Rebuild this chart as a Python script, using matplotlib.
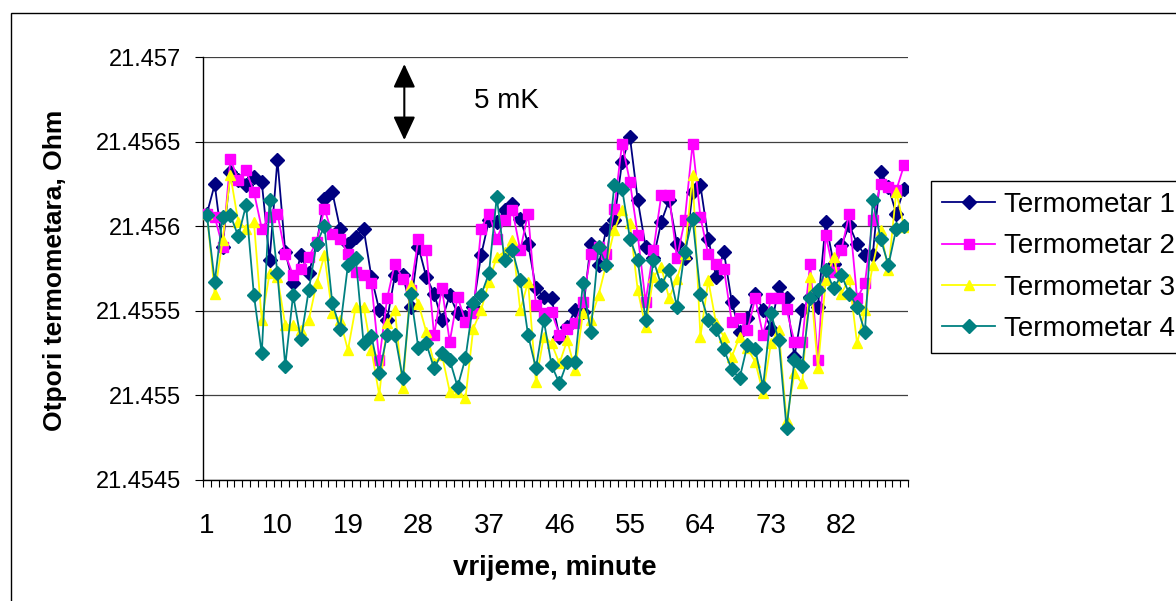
import numpy as np
import matplotlib
matplotlib.use("Agg")
import matplotlib.pyplot as plt
from matplotlib.patches import Rectangle

plt.rcParams['font.family'] = ['Liberation Sans', 'DejaVu Sans']

# otpori termometara, zapisani kao odstupanje od 21.455 Ohm u mikroohmima
base = 21.455
t1_uohm = [1075, 1248, 878, 1321, 1272, 1242, 1292, 1262, 799, 1394,
           848, 661, 828, 720, 897, 1163, 1203, 986, 897, 937,
           986, 700, 503, 444, 710, 710, 523, 878, 700, 601,
           444, 592, 483, 463, 523, 828, 1035, 1025, 1094, 1134,
           1045, 897, 631, 582, 572, 345, 404, 503, 493, 897,
           769, 986, 1035, 1380, 1528, 1154, 878, 809, 1025, 1154,
           897, 809, 1203, 1242, 927, 700, 848, 552, 375, 454,
           601, 503, 394, 641, 572, 227, 503, 582, 523, 1025,
           779, 887, 1006, 897, 828, 828, 1321, 1233, 1075, 1223]
t2_uohm = [1075, 1055, 878, 1400, 1272, 1331, 1203, 986, 1055, 1075,
           834, 710, 749, 818, 907, 1104, 956, 927, 838, 730,
           710, 661, 207, 572, 779, 690, 621, 927, 858, 355,
           631, 316, 582, 434, 483, 986, 1075, 927, 1035, 1094,
           858, 1075, 532, 483, 493, 355, 394, 424, 552, 838,
           878, 838, 1104, 1489, 1262, 947, 552, 858, 1183, 1183,
           809, 1035, 1489, 1055, 834, 775, 749, 434, 454, 385,
           572, 355, 572, 572, 507, 316, 316, 779, 207, 947,
           730, 858, 1075, 572, 661, 1035, 1252, 1233, 1213, 1361]
t3_uohm = [1075, 601, 917, 1302, 1025, 986, 1025, 444, 720, 700,
           414, 414, 385, 444, 661, 828, 483, 444, 266, 523,
           523, 266, 0, 424, 503, 39, 651, 542, 375, 187,
           237, 20, 20, -20, 394, 503, 670, 818, 848, 917,
           503, 670, 79, 345, 306, 187, 325, 148, 483, 444,
           592, 779, 976, 1094, 1016, 621, 404, 700, 759, 572,
           690, 838, 1302, 345, 680, 424, 345, 227, 345, 276,
           197, 10, 306, 385, -148, 128, 69, 700, 158, 680,
           818, 601, 690, 306, 503, 769, 976, 740, 1203, 996]
t4_uohm = [1065, 670, 1055, 1065, 941, 1124, 592, 247, 1154, 720,
           174, 592, 329, 621, 897, 1000, 546, 394, 769, 809,
           306, 349, 128, 355, 355, 99, 601, 276, 306, 158,
           247, 207, 49, 217, 546, 592, 720, 1173, 799, 858,
           680, 355, 158, 444, 177, 69, 197, 197, 661, 375,
           878, 769, 1242, 1223, 927, 799, 444, 799, 651, 740,
           523, 848, 1045, 598, 444, 394, 270, 152, 99, 296,
           270, 49, 483, 325, -197, 207, 172, 572, 621, 743,
           631, 710, 601, 523, 375, 1154, 927, 769, 986, 1000]

minute = np.arange(1, len(t1_uohm) + 1)
series = [
    ("Termometar 1", t1_uohm, "#000080", "D", 7),
    ("Termometar 2", t2_uohm, "#FF00FF", "s", 6.5),
    ("Termometar 3", t3_uohm, "#FFFF00", "^", 7.5),
    ("Termometar 4", t4_uohm, "#008080", "D", 7),
]
ytick_vals = [21.4545, 21.455, 21.4555, 21.456, 21.4565, 21.457]
ytick_text = ["21.4545", "21.455", "21.4555", "21.456", "21.4565", "21.457"]
xtick_vals = [1, 10, 19, 28, 37, 46, 55, 64, 73, 82]

W, H = 1176, 601
fig = plt.figure(figsize=(W / 100, H / 100), dpi=100)
ax = fig.add_axes([203 / W, 1 - 479.5 / H, 705 / W, (479.5 - 57.3) / H])

for name, vals, col, mk, ms in series:
    y = base + np.array(vals) * 1e-6
    ax.plot(minute, y, color=col, lw=1.3, marker=mk, ms=ms,
            mfc=col, mec=col, label=name, zorder=3)

ax.set_xlim(0.5, len(minute) + 0.5)
ax.set_ylim(21.4545, 21.457)
ax.set_yticks(ytick_vals)
ax.set_yticklabels(ytick_text, fontsize=17)
ax.grid(axis='y', color='#404040', lw=0.9, zorder=0)
ax.set_xticks(xtick_vals)
ax.set_xticklabels([str(v) for v in xtick_vals], fontsize=20)
ax.set_xticks(np.arange(0.5, len(minute) + 1, 1), minor=True)
ax.tick_params(axis='x', which='major', length=0, pad=24)
ax.tick_params(axis='x', which='minor', length=5, width=0.8, direction='out')
ax.tick_params(axis='y', length=6, width=0.8, direction='out', pad=10)
for s in ['top', 'right']:
    ax.spines[s].set_visible(False)
ax.spines['left'].set_linewidth(1)
ax.spines['bottom'].set_linewidth(1)

# strelica 5 mK
ax.annotate('', xy=(26.2, 21.45696), xytext=(26.2, 21.45651),
            arrowprops=dict(arrowstyle='<|-|>,head_length=0.6,head_width=0.28',
                            color='black', lw=1.5, mutation_scale=24,
                            shrinkA=0, shrinkB=0))
ax.text(39.3, 21.45674, '5 mK', fontsize=20, ha='center', va='center')

fig.text(55 / W, 1 - 270 / H, 'Otpori termometara, Ohm', rotation=90,
         fontsize=19, fontweight='bold', ha='center', va='center')
fig.text(555 / W, 1 - 568 / H, 'vrijeme, minute', fontsize=20,
         fontweight='bold', ha='center', va='center')

leg = fig.legend(loc='upper left', bbox_to_anchor=(931 / W, 1 - 181 / H),
                 fontsize=20, frameon=True, fancybox=False, framealpha=1,
                 edgecolor='black', borderpad=0.4, labelspacing=0.55,
                 handlelength=1.9, handletextpad=0.33, borderaxespad=0)
leg.get_frame().set_linewidth(1)

fig.patches.append(Rectangle((11 / W, -0.05), 1.2, 1 - 13 / H + 0.05,
                             transform=fig.transFigure, fill=False,
                             edgecolor='black', lw=1))

fig.savefig('out.png', dpi=100)
